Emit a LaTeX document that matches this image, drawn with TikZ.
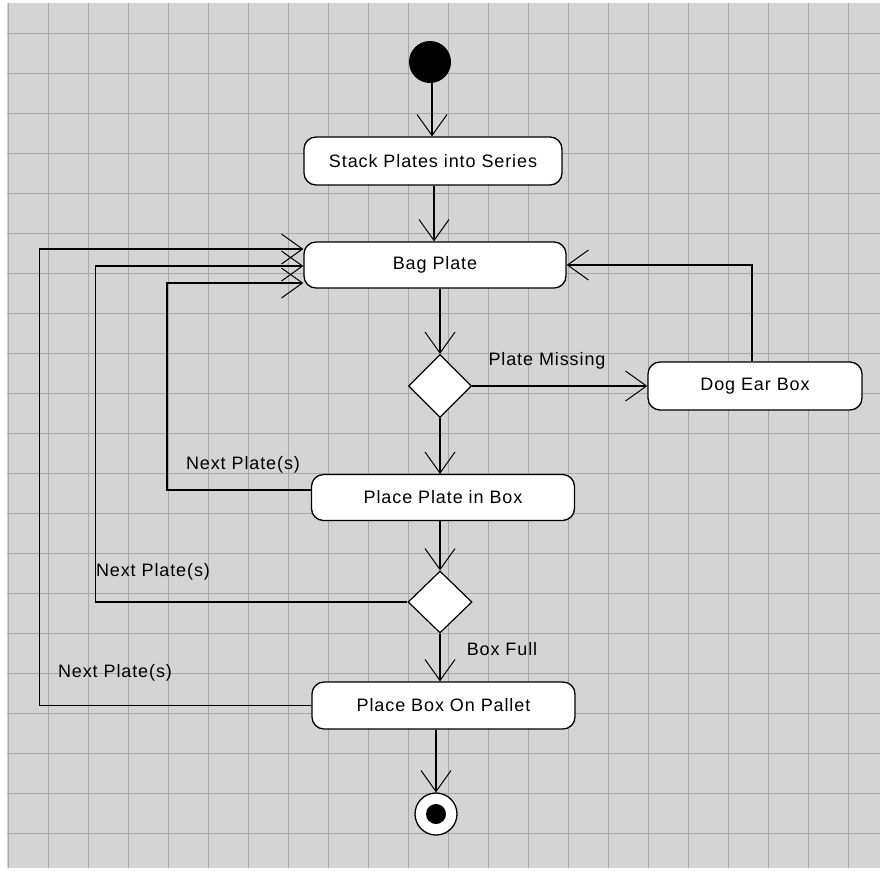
\documentclass[tikz,border=0pt]{standalone}
\usepackage{fontspec}
\setmainfont[LetterSpace=5]{Liberation Sans}
\usetikzlibrary{arrows.meta,shapes.geometric}
\definecolor{bggray}{HTML}{D4D4D4}
\definecolor{gridgray}{HTML}{A8A8A8}
\begin{document}
\begin{tikzpicture}[x=1pt,y=-1pt,
  every node/.style={font=\fontsize{18}{20}\selectfont},
  activity/.style={draw=black,line width=1.3pt,fill=white,rounded corners=12pt,inner sep=0pt},
  decision/.style={draw=black,line width=1.2pt,fill=white,diamond,inner sep=0pt,minimum width=63pt,minimum height=63pt},
  arr/.style={line width=1.3pt,-{Straight Barb[length=21pt,width=30pt,line width=1pt]}},
  lbl/.style={inner sep=0pt}]
\useasboundingbox (0,0) rectangle (882,871);
\fill[white] (0,0) rectangle (882,871);
\fill[bggray] (7,3) rectangle (880,868);
\foreach \x in {8,48,...,878} \draw[gridgray,line width=0.9pt] (\x,3) -- (\x,868);
\foreach \y in {33,73,...,866} \draw[gridgray,line width=0.9pt] (7,\y) -- (880,\y);

\node[circle,fill=black,minimum size=42pt,inner sep=0pt] (start) at (430,62) {};
\node[activity,minimum width=258pt,minimum height=48pt] (stack) at (433,161) {Stack Plates into Series};
\node[activity,minimum width=262pt,minimum height=46pt] (bag) at (435,265) {Bag Plate};
\node[decision] (d1) at (440,386) {};
\node[activity,minimum width=214pt,minimum height=48pt] (dog) at (755,386) {Dog Ear Box};
\node[activity,minimum width=263pt,minimum height=46pt] (place) at (443,497.5) {Place Plate in Box};
\node[decision,minimum height=62pt,minimum width=64pt] (d2) at (440,602) {};
\node[activity,minimum width=263pt,minimum height=47pt] (pallet) at (443.5,705.5) {Place Box On Pallet};
\node[circle,draw=black,line width=1.3pt,fill=white,minimum size=42pt,inner sep=0pt] (end) at (436,814) {};
\node[circle,fill=black,minimum size=20pt,inner sep=0pt] (enddot) at (end.center) {};

\draw[arr] (start.south -| 432,0) -- (432,0 |- stack.north);
\draw[arr] (stack.south -| 434,0) -- (434,0 |- bag.north);
\draw[arr] (bag.south -| d1.north) -- (d1.north);
\draw[arr] (d1.east) -- (dog.west);
\draw[arr] ([xshift=-3pt]dog.north) |- (bag.east);
\draw[arr] (d1.south) -- (d1.south |- place.north);
\draw[arr] ([yshift=7.5pt]place.west) -- ++(-144,0) |- ([yshift=-18pt]bag.west);
\draw[arr] (place.south -| d2.north) -- (d2.north);
\draw[arr] (d2.west) -- ++(-312,0) |- ([yshift=-1pt]bag.west);
\draw[arr] (d2.south) -- (d2.south |- pallet.north);
\draw[arr] (pallet.west) -- ++(-272,0) |- ([yshift=16pt]bag.west);
\draw[arr] (pallet.south -| end.north) -- (end.north);

\node[lbl] (lmiss) at (547,361) {Plate Missing};
\node[lbl] (lfull) at (502,649) {Box Full};
\node[lbl] (ln1) at (243,465) {Next Plate(s)};
\node[lbl] (ln2) at (153,572) {Next Plate(s)};
\node[lbl] (ln3) at (115,673) {Next Plate(s)};
\end{tikzpicture}
\end{document}
